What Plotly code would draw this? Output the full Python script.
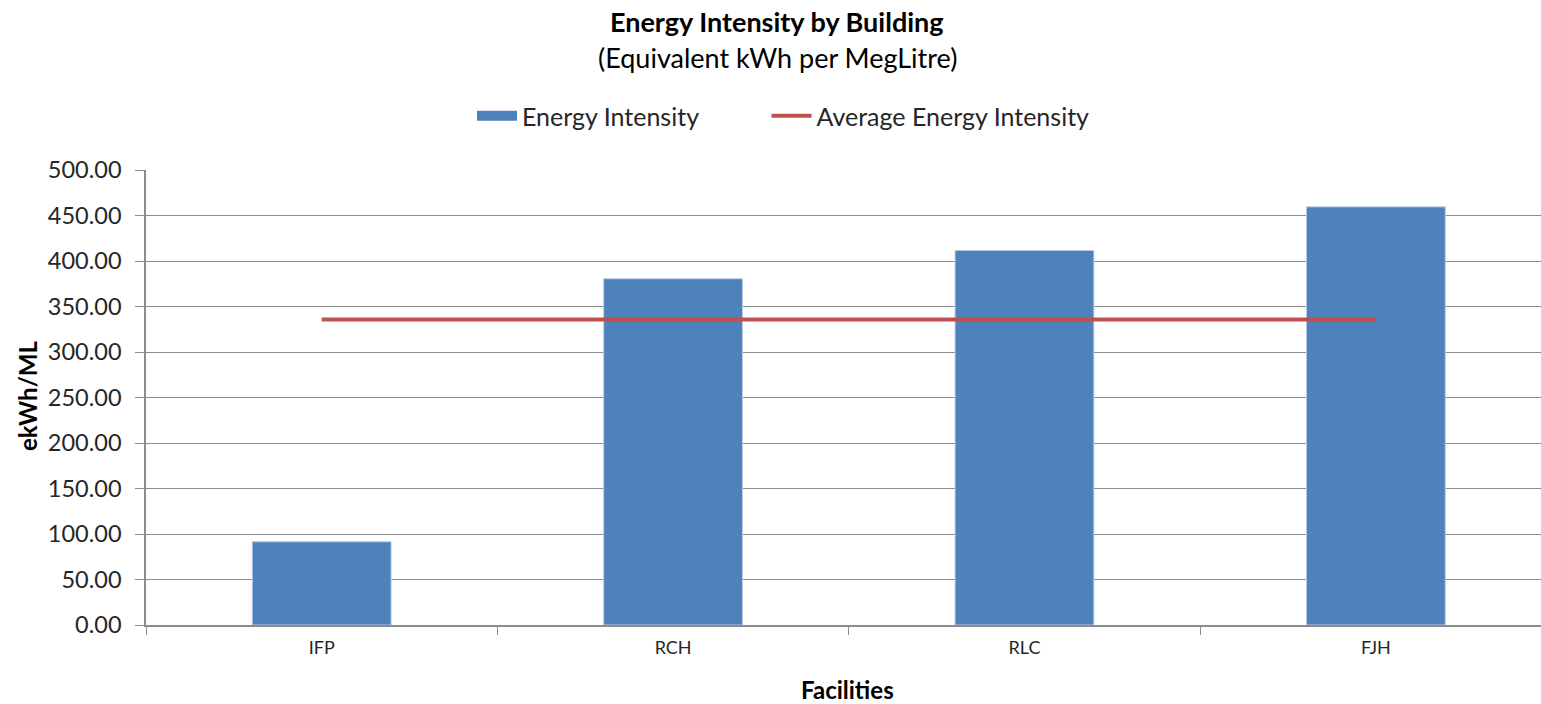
import plotly.graph_objects as go

categories = ["IFP", "RCH", "RLC", "FJH"]
energy_intensity = [91.5, 380.5, 411.5, 459.5]
average_intensity = [335.8, 335.8, 335.8, 335.8]
y_ticks = [0, 50, 100, 150, 200, 250, 300, 350, 400, 450, 500]

FONT = "Lato"
BLUE = "#4F81BD"
RED = "#C0504D"

W, H = 1541, 704
L, T, B = 146, 170, 79
plot_w = W - L
plot_h = H - T - B


def py(page_y):
    return (H - B - page_y) / plot_h


def px(page_x):
    return (page_x - L) / plot_w


fig = go.Figure()
fig.add_trace(go.Bar(
    x=categories, y=energy_intensity, name="Energy Intensity",
    marker=dict(color=BLUE, line=dict(color="#B9CDE5", width=1)),
    width=0.395, showlegend=False,
))
# legend entry for bars drawn as a wide rectangle swatch
fig.add_trace(go.Scatter(
    x=[None], y=[None], name="Energy Intensity\u2003\u2003\u2002\u2002", mode="lines",
    line=dict(color=BLUE, width=17), showlegend=True,
))
fig.add_trace(go.Scatter(
    x=categories, y=average_intensity, name="Average Energy Intensity",
    mode="lines", line=dict(color=RED, width=4),
))

fig.update_layout(
    width=W, height=H,
    margin=dict(l=L, r=0, t=T, b=B, pad=0),
    plot_bgcolor="white", paper_bgcolor="white",
    font=dict(family=FONT, color="#262626"),
    showlegend=True,
    legend=dict(orientation="h", x=px(472), xanchor="left", y=py(116), yanchor="middle",
                font=dict(size=25, family=FONT, color="#262626"), itemwidth=40,
                tracegroupgap=0),
    annotations=[
        dict(text="<b>Energy Intensity by Building</b>", x=px(777), xref="paper", xanchor="center",
             y=py(21), yref="paper", yanchor="middle", showarrow=False,
             font=dict(size=27, color="black", family=FONT)),
        dict(text="(Equivalent kWh per MegLitre)", x=px(777), xref="paper", xanchor="center",
             y=py(57), yref="paper", yanchor="middle", showarrow=False,
             font=dict(size=27, color="black", family=FONT)),
        dict(text="<b>ekWh/ML</b>", x=px(27), xref="paper", xanchor="center",
             y=py(396), yref="paper", yanchor="middle", showarrow=False, textangle=-90,
             font=dict(size=24, color="black", family=FONT)),
        dict(text="<b>Facilities</b>", x=px(847), xref="paper", xanchor="center",
             y=py(689), yref="paper", yanchor="middle", showarrow=False,
             font=dict(size=24, color="black", family=FONT)),
    ],
)

fig.update_xaxes(
    type="category", range=[-0.5, 3.47],
    tickson="boundaries", ticks="outside", ticklen=8, tickcolor="#8C8C8C",
    showline=True, linecolor="#8C8C8C", linewidth=1.5,
    showgrid=False, ticklabelstandoff=6,
    tickfont=dict(size=18, color="#262626"),
)
fig.update_yaxes(
    range=[0, 500], tickvals=y_ticks, tickformat=".2f",
    ticks="outside", ticklen=9, tickcolor="#8C8C8C",
    showline=True, linecolor="#8C8C8C", linewidth=1.5,
    showgrid=True, gridcolor="#8C8C8C", gridwidth=1,
    zeroline=False, ticklabelstandoff=9,
    tickfont=dict(size=23.5, color="#262626"),
)

fig.write_html(
    "out.html",
    config={"displayModeBar": False},
    post_script="document.body.style.margin='0';document.body.style.overflow='hidden';",
)
